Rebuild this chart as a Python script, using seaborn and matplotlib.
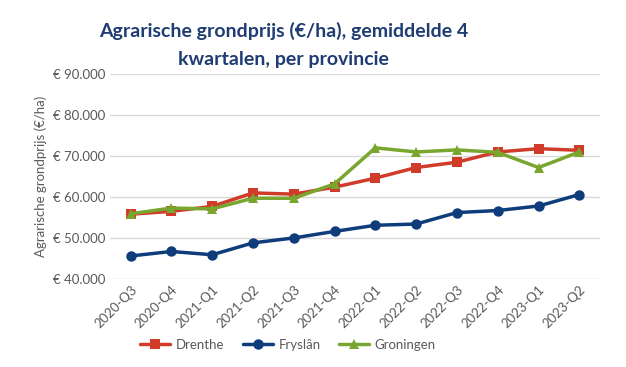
import pandas as pd
import seaborn as sns
import matplotlib.pyplot as plt
from matplotlib.ticker import FuncFormatter

kwartalen = ["2020-Q3", "2020-Q4", "2021-Q1", "2021-Q2", "2021-Q3", "2021-Q4",
             "2022-Q1", "2022-Q2", "2022-Q3", "2022-Q4", "2023-Q1", "2023-Q2"]
drenthe = [55800, 56500, 57700, 61000, 60700, 62400, 64600, 67200, 68500, 71000, 71800, 71400]
fryslan = [45600, 46700, 45900, 48800, 50000, 51600, 53100, 53400, 56200, 56700, 57800, 60600]
groningen = [55900, 57300, 57100, 59700, 59700, 63200, 72000, 71000, 71500, 70900, 67200, 71000]
provincies = ["Drenthe", "Fryslân", "Groningen"]
yticks = [40000, 50000, 60000, 70000, 80000, 90000]

df = pd.DataFrame({
    "kwartaal": kwartalen * 3,
    "prijs": drenthe + fryslan + groningen,
    "provincie": [p for p in provincies for _ in kwartalen],
})

sns.set_theme(style="white")
plt.rcParams["font.family"] = ["Lato", "DejaVu Sans"]

kleuren = {"Drenthe": "#D13B2A", "Fryslân": "#0F3D7C", "Groningen": "#78A62F"}
markers = {"Drenthe": "s", "Fryslân": "o", "Groningen": "^"}

fig = plt.figure(figsize=(6.26, 3.67), dpi=100)
ax = fig.add_axes([0.176, 0.24, 0.782, 0.558])

sns.lineplot(data=df, x="kwartaal", y="prijs", hue="provincie", style="provincie",
             palette=kleuren, markers=markers, dashes=False, linewidth=2.5,
             markersize=7.5, markeredgewidth=0, sort=False, ax=ax)

ax.set_ylim(40000, 90000)
ax.set_xlim(-0.5, 11.5)
ax.set_yticks(yticks)
ax.yaxis.set_major_formatter(FuncFormatter(lambda v, p: "€ " + f"{int(v):,}".replace(",", ".")))
ax.grid(axis="y", color="#D9D9D9", linewidth=1)
ax.set_axisbelow(True)
for s in ax.spines.values():
    s.set_visible(False)
ax.tick_params(axis="both", length=0, colors="#595959", labelsize=9.5)
plt.setp(ax.get_xticklabels(), rotation=45, ha="right", rotation_mode="anchor")
ax.set_xlabel("")
ax.set_ylabel("Agrarische grondprijs (€/ha)", color="#595959", fontsize=9.5)

ax.legend(title=None, loc="center", bbox_to_anchor=(0.363, -0.322), ncol=3,
          frameon=False, fontsize=9.5, handlelength=2.3, handletextpad=0.4,
          columnspacing=1.4, labelcolor="#595959")

fig.text(0.453, 0.877, "Agrarische grondprijs (€/ha), gemiddelde 4\nkwartalen, per provincie",
         ha="center", va="center", fontsize=14, fontweight="bold", color="#1F3C73",
         linespacing=1.8)

plt.savefig("out.png", dpi=100)
